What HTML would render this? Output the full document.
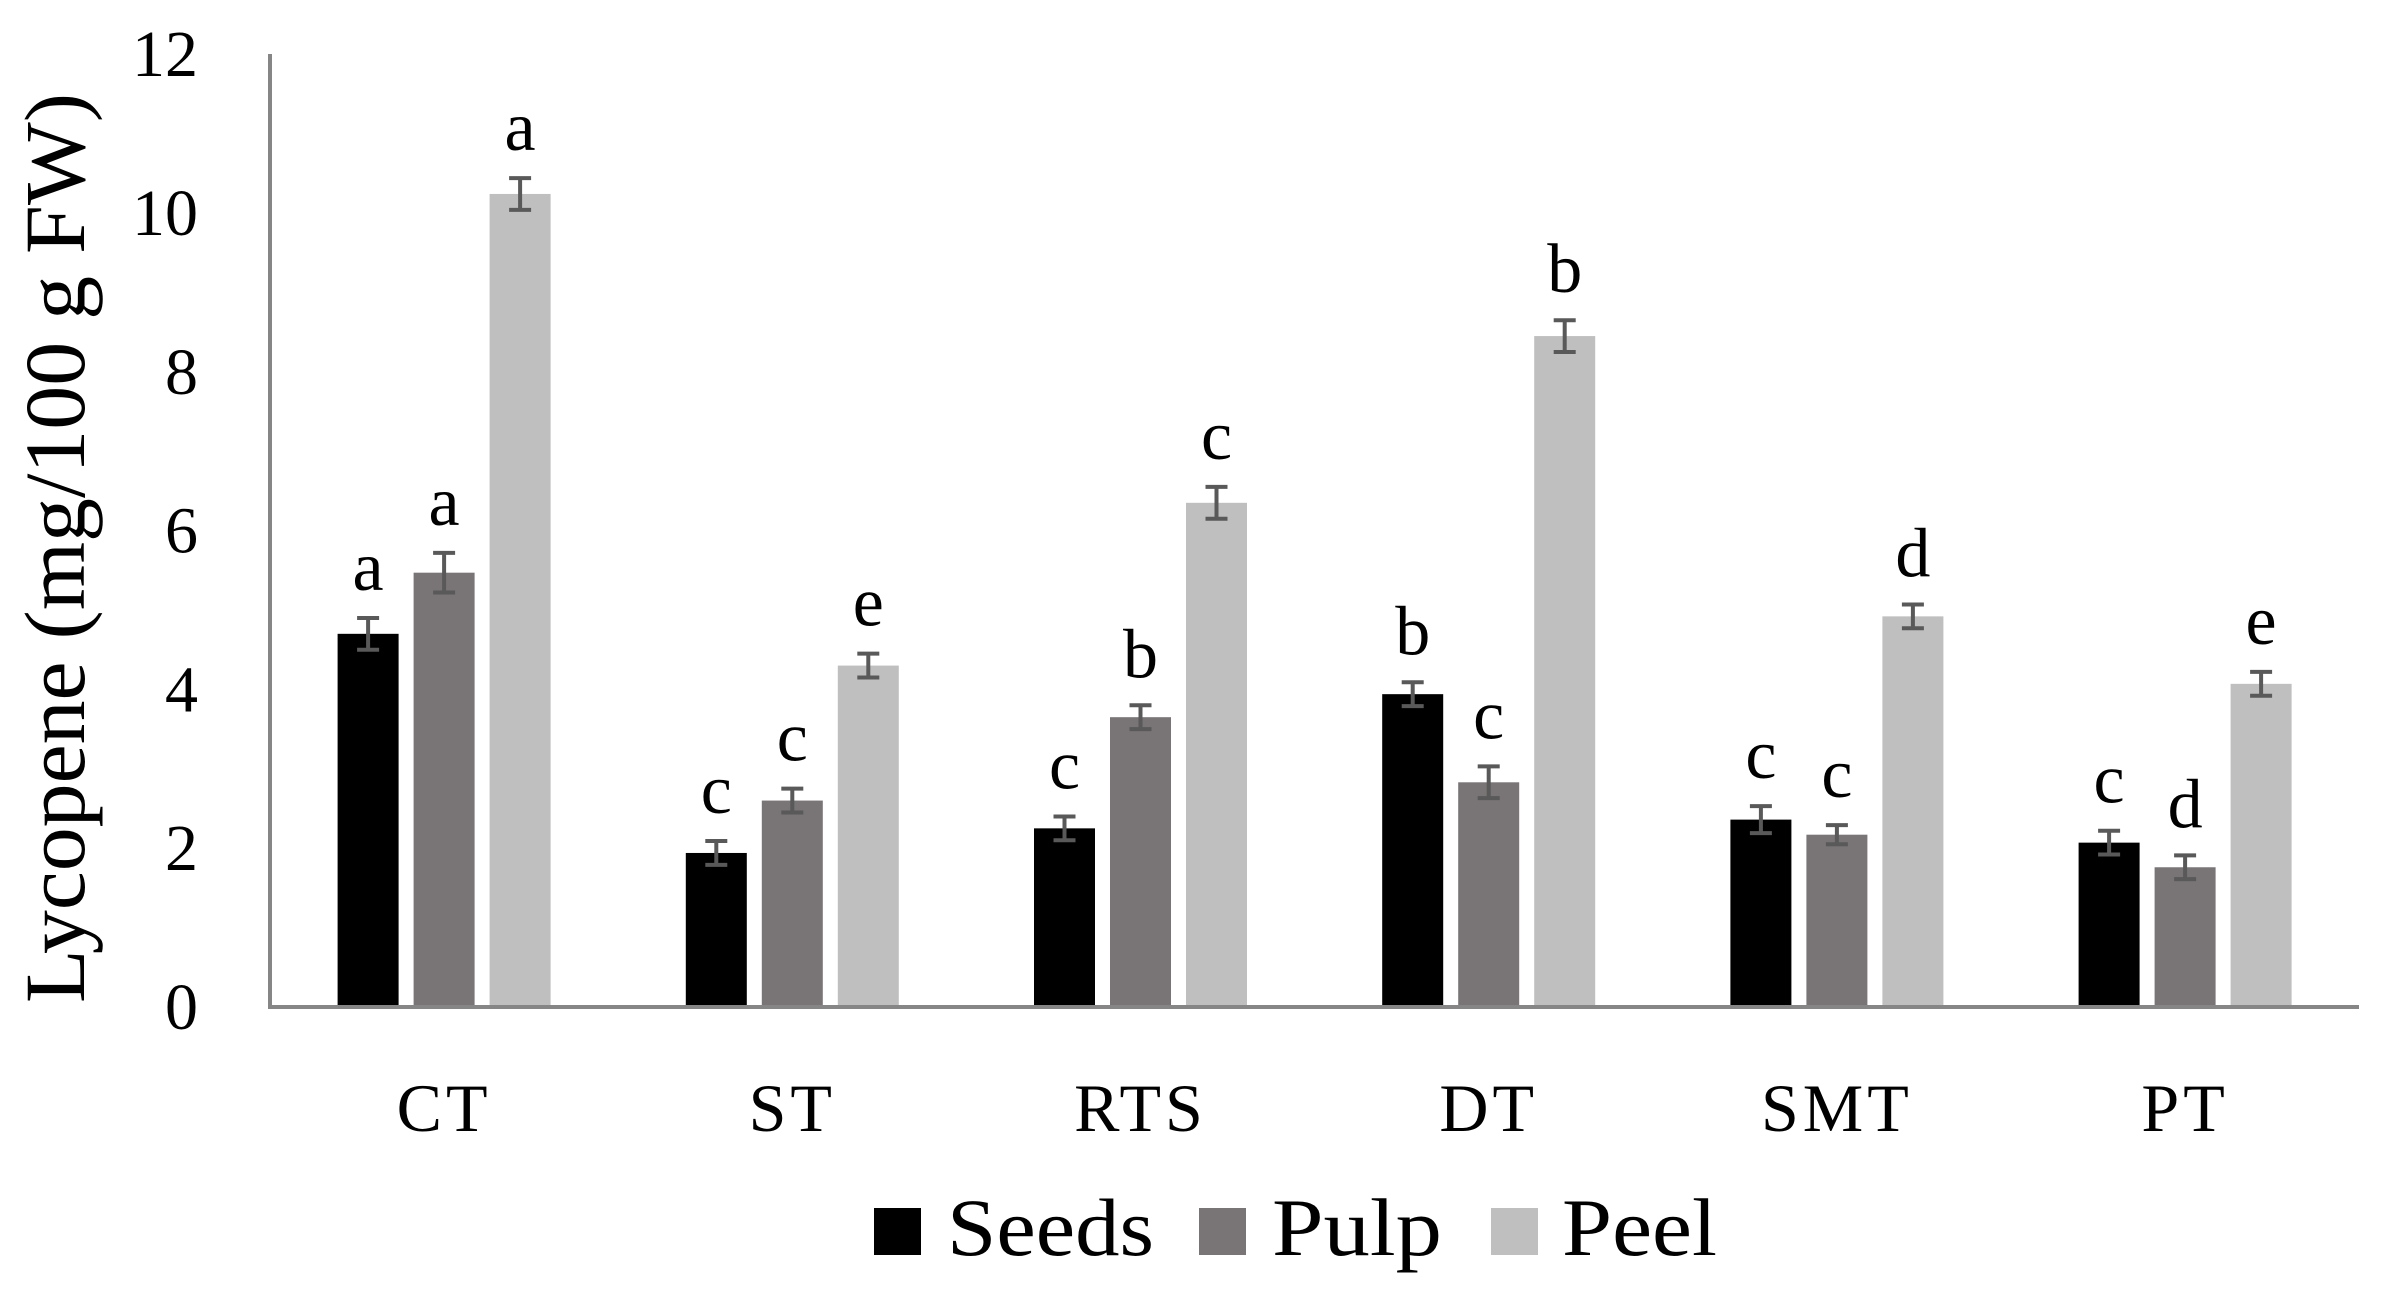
<!DOCTYPE html>
<html><head><meta charset="utf-8"><style>body{margin:0;background:#fff}</style></head><body>
<svg width="2384" height="1299" viewBox="0 0 2384 1299" xmlns="http://www.w3.org/2000/svg" font-family="Liberation Serif, serif">
<g id="bars"></g>
</svg>
<script>
const s=document.querySelector('svg');
const y0=1007,k=79.4,x0=270,gw=348.2;
const data=[["CT",[4.70,5.47,10.24],[0.2,0.25,0.2],["a","a","a"]],
["ST",[1.94,2.6,4.3],[0.15,0.15,0.15],["c","c","e"]],
["RTS",[2.25,3.65,6.35],[0.15,0.15,0.2],["c","b","c"]],
["DT",[3.94,2.83,8.45],[0.15,0.2,0.2],["b","c","b"]],
["SMT",[2.36,2.17,4.92],[0.17,0.12,0.15],["c","c","d"]],
["PT",[2.07,1.76,4.07],[0.15,0.15,0.15],["c","d","e"]]];
const col=["#000000","#797475","#bfbfbf"];
let h='';
for(let t=0;t<=12;t+=2){h+=`<text x="198" y="${y0-t*k+22}" font-size="66" text-anchor="end">${t}</text>`;}
data.forEach((d,i)=>{const c=x0+gw*(i+0.5);
h+=`<text x="${c}" y="1131" font-size="68" text-anchor="middle" letter-spacing="4">${d[0]}</text>`;
for(let j=0;j<3;j++){const bx=c-30.5+(j-1)*76,v=d[1][j],e=d[2][j],top=y0-v*k;
h+=`<rect x="${bx}" y="${top}" width="61" height="${v*k}" fill="${col[j]}"/>`;
const cx=bx+30.5,a=top-e*k,b=top+e*k;
h+=`<path d="M${cx} ${a}V${b}M${cx-11} ${a}H${cx+11}M${cx-11} ${b}H${cx+11}" stroke="#595959" stroke-width="4" fill="none"/>`;
h+=`<text x="${cx}" y="${a-28}" font-size="70" text-anchor="middle">${d[3][j]}</text>`;}
});
h+=`<path d="M270 54V1007H2359" stroke="#868686" stroke-width="4" fill="none"/>`;
h+=`<text transform="translate(84,548) rotate(-90)" font-size="86" text-anchor="middle" textLength="910" lengthAdjust="spacingAndGlyphs">Lycopene (mg/100 g FW)</text>`;
h+=`<rect x="874" y="1208" width="47" height="47" fill="#000"/><text x="947" y="1255" font-size="82" textLength="207" lengthAdjust="spacingAndGlyphs">Seeds</text>`;
h+=`<rect x="1199" y="1208" width="47" height="47" fill="#797475"/><text x="1272" y="1255" font-size="82" textLength="170" lengthAdjust="spacingAndGlyphs">Pulp</text>`;
h+=`<rect x="1491" y="1208" width="47" height="47" fill="#bfbfbf"/><text x="1562" y="1255" font-size="82" textLength="155" lengthAdjust="spacingAndGlyphs">Peel</text>`;
s.innerHTML=h;
</script>
</body></html>
